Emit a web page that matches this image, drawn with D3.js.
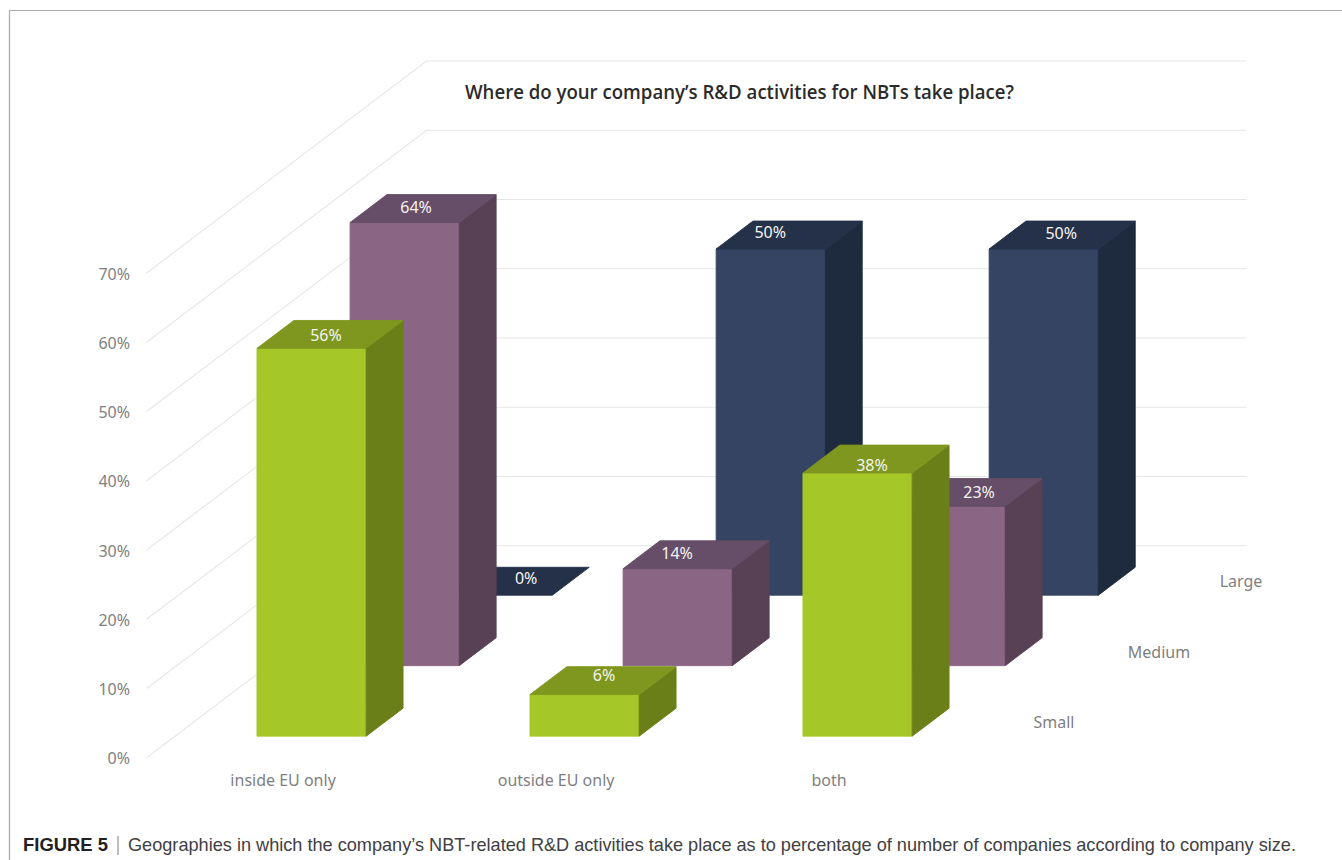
<!DOCTYPE html>
<html lang="en">
<head>
<meta charset="utf-8">
<title>Where do your company's R&amp;D activities for NBTs take place?</title>
<script src="https://cdn.jsdelivr.net/npm/d3@7/dist/d3.min.js"></script>
<style>
  html, body { margin: 0; padding: 0; background: #fff; }
  svg { display: block; }
  text { font-family: "Noto Sans", sans-serif; }
  .caption { font-family: "Liberation Sans", Arial, sans-serif; }
</style>
</head>
<body>
<svg id="chart" width="1342" height="860"></svg>
<script>
// Survey shares in percent, one list per company size
const categories = ["inside EU only", "outside EU only", "both"];
const sizes = ["Small", "Medium", "Large"];
const smallValues = [56, 6, 38];
const mediumValues = [64, 14, 23];
const largeValues = [0, 50, 50];
const valueTicks = [0, 10, 20, 30, 40, 50, 60, 70];

const titleText = "Where do your company\u2019s R&D activities for NBTs take place?";
const captionHead = "FIGURE 5";
const captionBody = "Geographies in which the company\u2019s NBT-related R&D activities take place as to percentage of number of companies according to company size.";

// Face colours per company size
const faces = {
  Small:  { front: "#a6c728", top: "#7f971e", side: "#6a7f18" },
  Medium: { front: "#8a6684", top: "#674e68", side: "#584055" },
  Large:  { front: "#344462", top: "#243149", side: "#1e2a3d" }
};

// Oblique projection of the box: the floor runs from its front-left corner
// up and to the right by this much over the whole depth.
const origin = { x: 146.6, y: 757.7 };
const skew = { x: 280, y: 212 };

const x = d3.scaleBand().domain(categories).range([origin.x, origin.x + 819]).paddingInner(0.6).paddingOuter(0.3);
const depth = d3.scaleBand().domain(sizes).range([0, 1]).paddingInner(0.604).paddingOuter(0.306);
const height = d3.scaleLinear().domain([0, 70]).range([0, 484.7]);
const yFront = d3.scaleLinear().domain([0, 70]).range([origin.y, origin.y - 484.7]);

const project = (px, t, v) => [px + t * skew.x, origin.y - t * skew.y - height(v)];
const poly = pts => pts.map(p => p.map(n => n.toFixed(2)).join(",")).join(" ");

const svg = d3.select("#chart");

// Frame around the figure: top and left rules only, the rest bleeds off
svg.append("path")
  .attr("d", "M9.5,860V10.5H1342")
  .attr("fill", "none").attr("stroke", "#a9a9a9").attr("stroke-width", 1.2);

// Side wall and back wall gridlines
const grid = svg.append("g").attr("fill", "none").attr("stroke", "#e6e6e6").attr("stroke-width", 1.1);
grid.selectAll("path").data(valueTicks).join("path")
  .attr("d", v => {
    const a = project(origin.x, 0, v), b = project(origin.x, 1, v);
    return `M${a}L${b}H1246.5`;
  });

// Value axis, drawn at the front edge of the floor
const axis = svg.append("g")
  .attr("transform", "translate(137,0.8)")
  .call(d3.axisLeft(yFront).tickValues(valueTicks).tickSize(0).tickPadding(7).tickFormat(d => d + "%"));
axis.select(".domain").remove();
axis.selectAll("text").attr("fill", "#7f7f7f").style("font-size", "16px")
  .style("font-family", '"Noto Sans", sans-serif').attr("dy", "0.34em");

// Bars are painted from the back row to the front row
const rows = [
  { size: "Large", values: largeValues },
  { size: "Medium", values: mediumValues },
  { size: "Small", values: smallValues }
];
// Small shifts that place each value label on its bar's top face
const labelShift = {
  Small: [[-4, 1], [1, -5], [-4, 6]],
  Medium: [[-7, -1], [-19, -2], [10, 0]],
  Large: [[10, -3], [-19, -3], [-1, -2]]
};

const barLayer = svg.append("g");
rows.forEach(row => {
  const t0 = depth(row.size), t1 = t0 + depth.bandwidth(), c = faces[row.size];
  row.values.forEach((v, i) => {
    const cat = categories[i];
    const l = x(cat), r = l + x.bandwidth();
    const g = barLayer.append("g");
    const face = (fill, pts) => g.append("polygon")
      .attr("fill", fill).attr("stroke", fill).attr("stroke-width", 0.9)
      .attr("stroke-linejoin", "round").attr("points", poly(pts));
    if (v > 0) {
      face(c.front, [project(l, t0, 0), project(r, t0, 0), project(r, t0, v), project(l, t0, v)]);
      face(c.side, [project(r, t0, 0), project(r, t1, 0), project(r, t1, v), project(r, t0, v)]);
    }
    face(c.top, [project(l, t0, v), project(r, t0, v), project(r, t1, v), project(l, t1, v)]);
    // Top-face label, kept with its bar so nearer bars can paint over it
    const centre = project((l + r) / 2, (t0 + t1) / 2, v);
    const [sx, sy] = labelShift[row.size][i];
    g.append("text")
      .attr("x", centre[0] + sx)
      .attr("y", centre[1] + sy)
      .attr("dy", "0.36em")
      .attr("text-anchor", "middle")
      .attr("fill", "#f4f4f0")
      .style("font-size", "16px")
      .text(v + "%");
  });
});

// Category labels along the front of the floor
svg.append("g").selectAll("text").data(categories).join("text")
  .attr("x", d => x(d) + x.bandwidth() / 2)
  .attr("y", 781)
  .attr("dy", "0.34em")
  .attr("text-anchor", "middle")
  .attr("fill", "#7f7f7f")
  .style("font-size", "16px")
  .text(d => d);

// Company size labels, stepping back along the right side of the floor
const sizeLabelX = { Small: 1054, Medium: 1159, Large: 1241 };
svg.append("g").selectAll("text").data(sizes).join("text")
  .attr("x", d => sizeLabelX[d])
  .attr("y", d => project(0, depth(d), 0)[1] - 14 + 0.5)
  .attr("dy", "0.34em")
  .attr("text-anchor", "middle")
  .attr("fill", "#7f7f7f")
  .style("font-size", "16px")
  .text(d => d);

// Chart title
svg.append("text")
  .attr("x", 465).attr("y", 98.5)
  .attr("fill", "#2b2b2b")
  .attr("font-weight", 600)
  .attr("textLength", 549).attr("lengthAdjust", "spacingAndGlyphs")
  .style("font-family", '"Open Sans", sans-serif')
  .style("font-size", "19px")
  .text(titleText);

// Figure caption
const cap = svg.append("g").attr("class", "caption");
cap.append("text").attr("class", "caption")
  .attr("x", 23).attr("y", 851)
  .attr("fill", "#231f20").attr("font-weight", 700)
  .attr("textLength", 85).attr("lengthAdjust", "spacingAndGlyphs")
  .style("font-size", "18.5px").text(captionHead);
cap.append("line").attr("x1", 118).attr("x2", 118).attr("y1", 836).attr("y2", 855)
  .attr("stroke", "#6d6e71").attr("stroke-width", 0.9);
cap.append("text").attr("class", "caption")
  .attr("x", 128).attr("y", 851)
  .attr("fill", "#414042")
  .attr("textLength", 1168).attr("lengthAdjust", "spacingAndGlyphs")
  .style("font-size", "18.5px").text(captionBody);
</script>
</body>
</html>
